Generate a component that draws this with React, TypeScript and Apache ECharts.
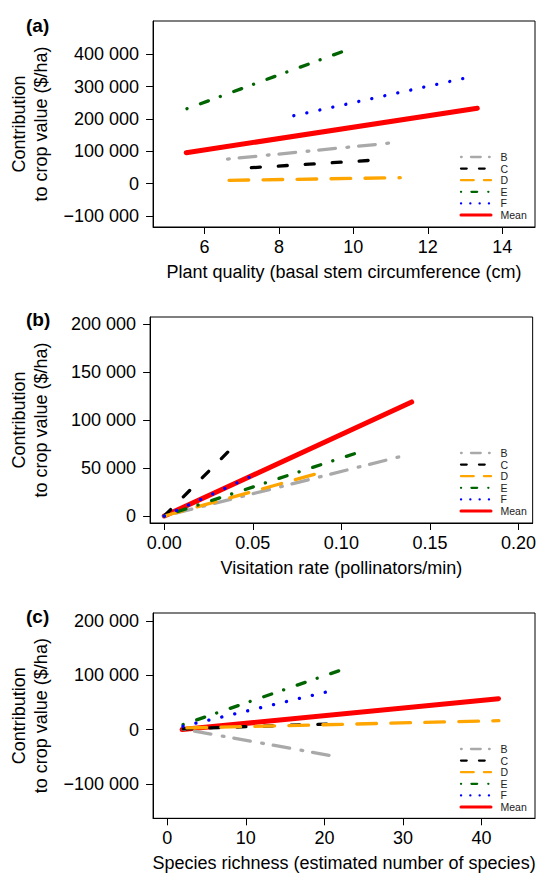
import React, { useEffect, useRef } from "react";
import * as echarts from "echarts";

// ---------- data ----------
const LEGEND_NAMES = ["B", "C", "D", "E", "F", "Mean"];
const DRAW_ORDER = ["Mean", "B", "C", "D", "E", "F"];

// Panel (a): Plant quality (cm) -> contribution ($/ha), line endpoints
const aB = [[6.62, 76000], [11.08, 126500]];
const aC = [[7.26, 49400], [10.48, 72200]];
const aD = [[6.66, 10500], [11.26, 18500]];
const aE = [[5.53, 231500], [9.95, 417900]];
const aF = [[8.4, 209900], [13.1, 328400]];
const aMean = [[5.51, 95700], [13.33, 232700]];
const aXTicks = [6, 8, 10, 12, 14];
const aYTicks = [-100000, 0, 100000, 200000, 300000, 400000];

// Panel (b): Visitation rate (pollinators/min)
const bB = [[0, 0], [0.1359, 63200]];
const bC = [[0, 0], [0.0362, 67300]];
const bD = [[0, 0], [0.0853, 43700]];
const bE = [[0, 0], [0.1112, 67300]];
const bF = [[0, 0], [0.0501, 42200]];
const bMean = [[0, 0], [0.1397, 119000]];
const bXTicks = [0, 0.05, 0.1, 0.15, 0.2];
const bYTicks = [0, 50000, 100000, 150000, 200000];

// Panel (c): Species richness
const cB = [[2.0, 1000], [21.24, -49000]];
const cC = [[2.0, 1500], [20.68, 10400]];
const cD = [[2.5, 3000], [42.2, 16500]];
const cE = [[2.02, 9200], [22.2, 110200]];
const cF = [[2.0, 6100], [20.9, 71600]];
const cMean = [[1.89, 0], [42.16, 57000]];
const cXTicks = [0, 10, 20, 30, 40];
const cYTicks = [-100000, 0, 100000, 200000];

const PANEL_LABELS = ["(a)", "(b)", "(c)"];
const X_TITLES = [
  "Plant quality (basal stem circumference (cm)",
  "Visitation rate (pollinators/min)",
  "Species richness (estimated number of species)",
];
const Y_TITLE = "Contribution\nto crop value ($/ha)";

// ---------- styles ----------
const FONT = "'Liberation Sans', Arial, Helvetica, sans-serif";
const STYLE: Record<string, any> = {
  B: { color: "#A9A9A9", dash: [1.7, 10, 16.7, 11.6], width: 3.3, lDash: [0.7, 9.3, 9.7, 8.3], lWidth: 2.3 },
  C: { color: "#000000", dash: [9, 18], width: 3.3, lDash: [5.7, 12.3], lWidth: 2.3 },
  D: { color: "#FFA500", dash: [19.7, 14.3], width: 3.3, lDash: [12.7, 10.3], lWidth: 2.3 },
  E: { color: "#006400", dash: [0.1, 14.3, 8.4, 12.65], width: 3.3, lDash: [0.1, 10.35, 5.7, 11.15], lWidth: 2.3 },
  F: { color: "#0000FF", dash: [0.1, 13.2], width: 3.3, lDash: [0.1, 9.2], lWidth: 2.3 },
  Mean: { color: "#FF0000", dash: "solid", width: 5, lDash: null, lWidth: 3 },
};

const GRID_LEFT = 150;
const GRID_WIDTH = 385;
const GRID_HEIGHT = 206;
const GRID_TOPS = [21, 317, 613];
const LABEL_Y = [25, 319, 616];

function fmtY(v: number) {
  const s = Math.abs(Math.round(v)).toString().replace(/\B(?=(\d{3})+(?!\d))/g, " ");
  return (v < 0 ? "\u2212" : "") + s;
}

export default function App() {
  const ref = useRef<HTMLDivElement>(null);
  useEffect(() => {
    if (!ref.current) return;
    const chart = echarts.init(ref.current, undefined, { renderer: "svg", width: 539, height: 873 });

    const panels = [
      { data: { B: aB, C: aC, D: aD, E: aE, F: aF, Mean: aMean }, xr: [4.62, 14.88], yr: [-133600, 502200], xt: aXTicks, yt: aYTicks, xf: (v: number) => String(v) },
      { data: { B: bB, C: bC, D: bD, E: bE, F: bF, Mean: bMean }, xr: [-0.008, 0.208], yr: [-7300, 207600], xt: bXTicks, yt: bYTicks, xf: (v: number) => v.toFixed(2) },
      { data: { B: cB, C: cC, D: cD, E: cE, F: cF, Mean: cMean }, xr: [-1.8, 46.8], yr: [-163500, 214900], xt: cXTicks, yt: cYTicks, xf: (v: number) => String(v) },
    ];

    const grid: any[] = [];
    const xAxis: any[] = [];
    const yAxis: any[] = [];
    const series: any[] = [];
    const graphic: any[] = [];

    panels.forEach((p, i) => {
      const top = GRID_TOPS[i];
      grid.push({
        left: GRID_LEFT, top, width: GRID_WIDTH, height: GRID_HEIGHT,
        show: true, borderColor: "#000", borderWidth: 1, backgroundColor: "transparent",
      });
      xAxis.push({
        type: "value", gridIndex: i, min: p.xr[0], max: p.xr[1],
        axisLine: { show: true, onZero: false, lineStyle: { color: "#000", width: 1 } },
        axisTick: { show: true, inside: false, length: 7, lineStyle: { color: "#000", width: 1 }, customValues: p.xt },
        axisLabel: { show: true, margin: 11, customValues: p.xt, formatter: p.xf, color: "#000", fontSize: 18, fontFamily: FONT },
        splitLine: { show: false },
        name: X_TITLES[i], nameLocation: "middle", nameGap: 44.7,
        nameTextStyle: { fontSize: 18, color: "#000", fontFamily: FONT, verticalAlign: "middle" },
      });
      yAxis.push({
        type: "value", gridIndex: i, min: p.yr[0], max: p.yr[1],
        axisLine: { show: true, onZero: false, lineStyle: { color: "#000", width: 1 } },
        axisTick: { show: true, inside: false, length: 7, lineStyle: { color: "#000", width: 1 }, customValues: p.yt },
        axisLabel: { show: true, margin: 14, customValues: p.yt, formatter: fmtY, color: "#000", fontSize: 18, fontFamily: FONT },
        splitLine: { show: false },
        name: Y_TITLE, nameLocation: "middle", nameGap: 119.8, nameRotate: 90,
        nameTextStyle: { fontSize: 18, color: "#000", fontFamily: FONT, verticalAlign: "middle", align: "center", lineHeight: 22.3 },
      });
      DRAW_ORDER.forEach((name) => {
        const st = STYLE[name];
        series.push({
          type: "line", name, xAxisIndex: i, yAxisIndex: i,
          data: (p.data as any)[name],
          showSymbol: false, symbol: "none", silent: true,
          lineStyle: { color: st.color, width: st.width, type: st.dash, cap: "round", join: "round" },
        });
      });
      // panel label
      graphic.push({
        type: "text", x: 26, y: LABEL_Y[i],
        style: { text: PANEL_LABELS[i], fontSize: 19, fontWeight: "bold", fontFamily: FONT, fill: "#000", verticalAlign: "middle", textVerticalAlign: "middle" },
      });
      // legend
      const bottom = top + GRID_HEIGHT;
      LEGEND_NAMES.forEach((name, k) => {
        const st = STYLE[name];
        const y = bottom - 12 - (LEGEND_NAMES.length - 1 - k) * 11.6;
        graphic.push({
          type: "line", shape: { x1: 461, y1: y, x2: 491, y2: y },
          style: { stroke: st.color, lineWidth: st.lWidth, lineDash: st.lDash, lineCap: "round" },
        });
        graphic.push({
          type: "text", x: 500.5, y,
          style: { text: name, fontSize: 10.5, fontFamily: FONT, fill: "#222", verticalAlign: "middle", textVerticalAlign: "middle" },
        });
      });
    });

    chart.setOption({ animation: false, grid, xAxis, yAxis, series, graphic });
    return () => chart.dispose();
  }, []);

  return <div ref={ref} style={{ position: "fixed", left: 0, top: 0, width: 539, height: 873, background: "#fff" }} />;
}
